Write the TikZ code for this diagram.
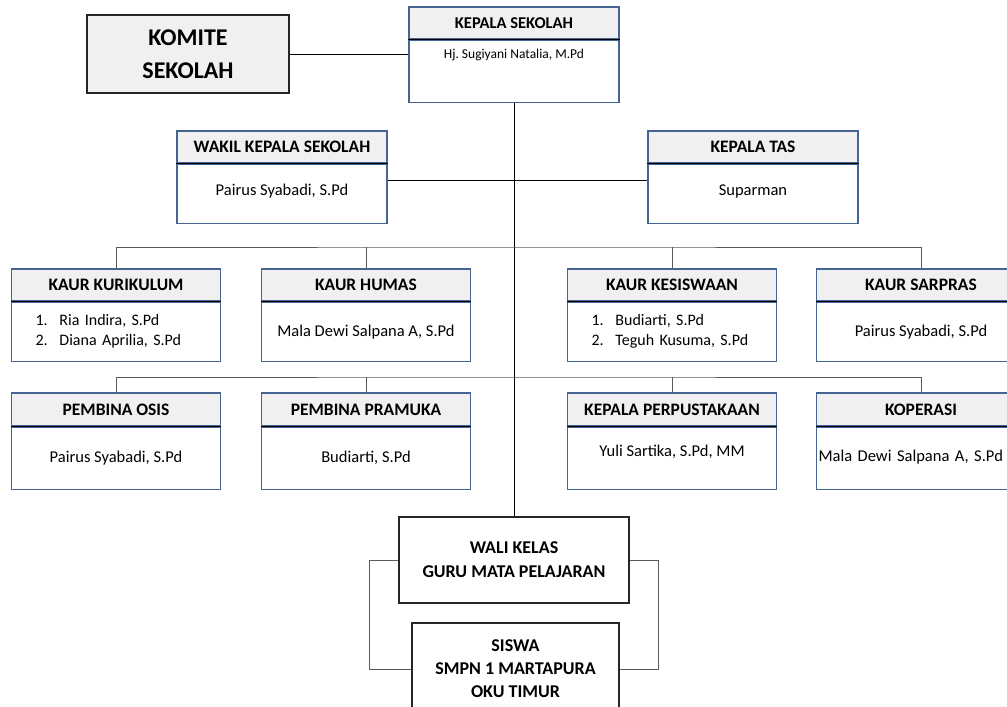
\documentclass[tikz,border=0pt]{standalone}
\usepackage{fontspec}
\setmainfont{Carlito}
\usepackage{tikz}
\usetikzlibrary{calc,positioning}

\definecolor{boxblue}{RGB}{70,100,145}
\definecolor{headgray}{RGB}{240,240,240}
\definecolor{linegray}{RGB}{90,90,90}

\tikzset{
  head/.style={draw=boxblue, fill=headgray, line width=1.1pt, minimum width=209, minimum height=32, inner sep=0pt,
    font=\bfseries\fontsize{17.5}{20}\selectfont},
  body/.style={draw=boxblue, fill=white, line width=1.1pt, minimum width=209, minimum height=60, inner sep=0pt,
    anchor=north, align=center, font=\fontsize{16.5}{20}\selectfont},
  bodylist/.style={body, align=left, text width=161, inner xsep=24pt, font=\fontsize{16}{20}\selectfont},
  bigbox/.style={draw=black!85, line width=1.1pt, align=center, inner sep=0pt},
  divider/.style={black, line width=1.4pt},
  conn/.style={black, line width=0.8pt},
  bus/.style={linegray, line width=0.8pt}
}

\begin{document}
\frenchspacing
\begin{tikzpicture}[x=1pt,y=-1pt]
  \clip (0,0) rectangle (1007,707);
  \fill[white] (0,0) rectangle (1007,707);

  % top
  \node[bigbox, fill=headgray, minimum width=202, minimum height=78, font=\bfseries\fontsize{24}{33}\selectfont] (komite) at (188,54) {KOMITE\\SEKOLAH};
  \node[head, minimum width=210, font=\bfseries\fontsize{16.5}{20}\selectfont] (ks) at (514,23) {KEPALA SEKOLAH};
  \node[body, minimum width=210, minimum height=62, text depth=35pt, font=\fontsize{13.5}{20}\selectfont] (ks-b) at (ks.south) {Hj. Sugiyani Natalia, M.Pd};

  \node[head, minimum width=210] (wks) at (282,147) {WAKIL KEPALA SEKOLAH};
  \node[body, minimum width=210, minimum height=59, text depth=7pt] (wks-b) at (wks.south) {Pairus Syabadi, S.Pd};
  \node[head, minimum width=210] (tas) at (753,147) {KEPALA TAS};
  \node[body, minimum width=210, minimum height=59, text depth=7pt] (tas-b) at (tas.south) {Suparman};

  % kaur
  \node[head] (kur) at (116,285) {KAUR KURIKULUM};
  \node[bodylist, minimum height=59] (kur-b) at (kur.south) {\makebox[24pt][l]{1.}Ria Indira, S.Pd\\\makebox[24pt][l]{2.}Diana Aprilia, S.Pd};
  \node[head] (hum) at (366,285) {KAUR HUMAS};
  \node[body, minimum height=59] (hum-b) at (hum.south) {Mala Dewi Salpana A, S.Pd};
  \node[head] (kes) at (672,285) {KAUR KESISWAAN};
  \node[bodylist, minimum height=59] (kes-b) at (kes.south) {\makebox[24pt][l]{1.}Budiarti, S.Pd\\\makebox[24pt][l]{2.}Teguh Kusuma, S.Pd};
  \node[head] (sar) at (921,285) {KAUR SARPRAS};
  \node[body, minimum height=59] (sar-b) at (sar.south) {Pairus Syabadi, S.Pd};

  % pembina
  \node[head, minimum height=33] (osis) at (116,409.5) {PEMBINA OSIS};
  \node[body, minimum height=62] (osis-b) at (osis.south) {Pairus Syabadi, S.Pd};
  \node[head, minimum height=33] (pram) at (366,409.5) {PEMBINA PRAMUKA};
  \node[body, minimum height=62] (pram-b) at (pram.south) {Budiarti, S.Pd};
  \node[head, minimum height=33] (pus) at (672,409.5) {KEPALA PERPUSTAKAAN};
  \node[body, minimum height=62, text depth=14pt] (pus-b) at (pus.south) {Yuli Sartika, S.Pd, MM};
  \node[head, minimum height=33] (kop) at (921,409.5) {KOPERASI};
  \node[body, minimum height=62, text depth=5pt, align=left, text width=205, inner xsep=2pt] (kop-b) at (kop.south) {Mala Dewi Salpana A, S.Pd};

  \foreach \n in {ks,wks,tas,kur,hum,kes,sar,osis,pram,pus,kop}
    \draw[divider] (\n.south west) -- (\n.south east);

  % bottom
  \node[bigbox, fill=white, minimum width=230, minimum height=86, font=\bfseries\fontsize{18}{24}\selectfont] (wali) at (514,560) {WALI KELAS\\GURU MATA PELAJARAN};
  \node[bigbox, fill=white, minimum width=207, minimum height=92, font=\bfseries\fontsize{18}{23}\selectfont] (siswa) at (515.5,669) {SISWA\\SMPN 1 MARTAPURA\\OKU TIMUR};

  % lines
  \coordinate (mid) at (514,180);
  \coordinate (busA) at (514,247);
  \coordinate (busB) at (514,377);
  \draw[conn] (komite.east) -- (komite.east -| ks-b.west);
  \draw[conn] (ks-b.south) -- (wali.north);
  \draw[conn] (wks-b.east |- mid) -- (tas-b.west |- mid);
  \draw[bus] (kur.north) |- (busA) -| (sar.north);
  \draw[bus] (hum.north) -- (hum.north |- busA);
  \draw[bus] (kes.north) -- (kes.north |- busA);
  \draw[bus] (osis.north) |- (busB) -| (kop.north);
  \draw[bus] (pram.north) -- (pram.north |- busB);
  \draw[bus] (pus.north) -- (pus.north |- busB);
  \draw[bus] (wali.west) -- ++(-29,0) |- (siswa.west);
  \draw[bus] (wali.east) -- ++(29,0) |- (siswa.east);
\end{tikzpicture}
\end{document}
